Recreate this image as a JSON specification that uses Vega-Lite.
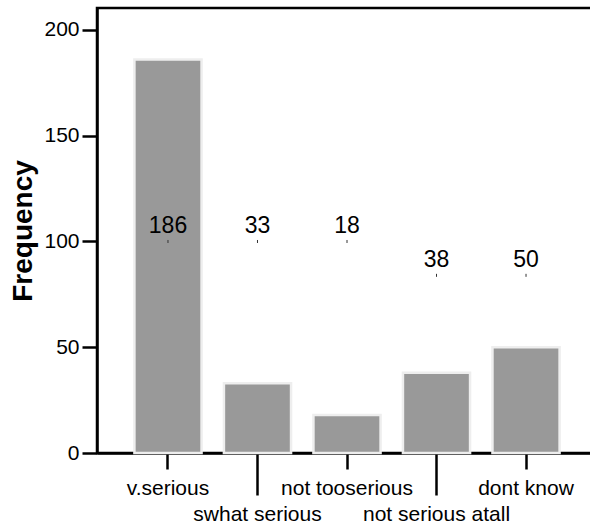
{
  "$schema": "https://vega.github.io/schema/vega-lite/v6.json",
  "width": 500,
  "height": 445,
  "autosize": {"type": "none"},
  "padding": {"left": 97, "top": 8, "right": 0, "bottom": 72},
  "background": "white",
  "config": {
    "font": "Liberation Sans",
    "view": {"stroke": "black", "strokeWidth": 2.5}
  },
  "data": {
    "values": [
      {"category": "v.serious", "count": 186, "labelRow": 1},
      {"category": "swhat serious", "count": 33, "labelRow": 1},
      {"category": "not tooserious", "count": 18, "labelRow": 1},
      {"category": "not serious atall", "count": 38, "labelRow": 2},
      {"category": "dont know", "count": 50, "labelRow": 2}
    ]
  },
  "encoding": {
    "x": {
      "field": "category",
      "type": "nominal",
      "sort": null,
      "scale": {"paddingInner": 0.25, "paddingOuter": 0.418},
      "axis": {
        "title": null,
        "labelAngle": 0,
        "labelFontSize": 21,
        "labelColor": "black",
        "labelBaseline": "alphabetic",
        "labelPadding": 25,
        "tickSize": {
          "condition": {"test": "datum.value === 'swhat serious' || datum.value === 'not serious atall'", "value": 42},
          "value": 16
        },
        "tickWidth": 2.5,
        "tickColor": "black",
        "domainColor": "black",
        "domainWidth": 2.5,
        "labelOverlap": false
      }
    }
  },
  "layer": [
    {
      "mark": {"type": "bar", "color": "#999999", "stroke": "#eeeeee", "strokeWidth": 2.5},
      "encoding": {
        "y": {
          "field": "count",
          "type": "quantitative",
          "scale": {"domain": [0, 210.4], "nice": false},
          "axis": {
            "title": "Frequency",
            "titleFontSize": 28,
            "titleFontWeight": "bold",
            "titleColor": "black",
            "titlePadding": 6,
            "values": [0, 50, 100, 150, 200],
            "grid": false,
            "labelFontSize": 21,
            "labelColor": "black",
            "labelPadding": 3,
            "tickSize": 15,
            "tickWidth": 2.5,
            "tickColor": "black",
            "domainColor": "black",
            "domainWidth": 2.5
          }
        }
      }
    },
    {
      "transform": [{"filter": "datum.labelRow === 1"}],
      "mark": {"type": "text", "fontSize": 23, "color": "black", "baseline": "alphabetic", "dy": -8},
      "encoding": {
        "y": {"datum": 100, "type": "quantitative"},
        "text": {"field": "count"}
      }
    },
    {
      "transform": [{"filter": "datum.labelRow === 2"}],
      "mark": {"type": "text", "fontSize": 23, "color": "black", "baseline": "alphabetic", "dy": -8},
      "encoding": {
        "y": {"datum": 84, "type": "quantitative"},
        "text": {"field": "count"}
      }
    },
    {
      "transform": [{"filter": "datum.labelRow === 1"}],
      "mark": {"type": "point", "shape": "M0,-1L0,1", "size": 9, "stroke": "#333333", "strokeWidth": 1, "filled": false, "opacity": 1},
      "encoding": {
        "y": {"datum": 100, "type": "quantitative"}
      }
    },
    {
      "transform": [{"filter": "datum.labelRow === 2"}],
      "mark": {"type": "point", "shape": "M0,-1L0,1", "size": 9, "stroke": "#333333", "strokeWidth": 1, "filled": false, "opacity": 1},
      "encoding": {
        "y": {"datum": 84, "type": "quantitative"}
      }
    }
  ]
}
